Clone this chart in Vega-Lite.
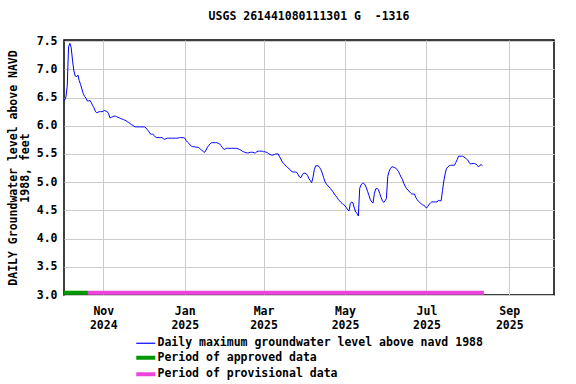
{
  "$schema": "https://vega.github.io/schema/vega-lite/v6.json",
  "autosize": {"type": "none"},
  "padding": {"left": 64, "top": 40, "right": 22, "bottom": 89},
  "width": 490,
  "height": 255,
  "background": "white",
  "title": {
    "text": "USGS 261441080111301 G \u00a0-1316",
    "font": "DejaVu Sans Mono",
    "fontSize": 11.5,
    "fontWeight": "bold",
    "color": "black",
    "anchor": "middle",
    "offset": 13
  },
  "config": {
    "view": {"stroke": "black", "strokeWidth": 1.5},
    "axis": {
      "labelFont": "DejaVu Sans Mono",
      "labelFontSize": 11.5,
      "labelFontWeight": "bold",
      "labelColor": "black",
      "titleFont": "DejaVu Sans Mono",
      "titleFontSize": 11.5,
      "titleFontWeight": "bold",
      "titleColor": "black",
      "gridColor": "#cccccc",
      "gridWidth": 1,
      "ticks": false,
      "domain": false
    },
    "legend": {
      "labelFont": "DejaVu Sans Mono",
      "labelFontSize": 11.5,
      "labelFontWeight": "bold",
      "labelColor": "black",
      "labelLimit": 0
    }
  },
  "datasets": {
    "gw": [
      {"date": "2024-10-03", "level": 6.45},
      {"date": "2024-10-04", "level": 6.51},
      {"date": "2024-10-05", "level": 6.70},
      {"date": "2024-10-06", "level": 7.40},
      {"date": "2024-10-07", "level": 7.46},
      {"date": "2024-10-08", "level": 7.38},
      {"date": "2024-10-09", "level": 7.15},
      {"date": "2024-10-10", "level": 6.97},
      {"date": "2024-10-11", "level": 6.88},
      {"date": "2024-10-12", "level": 6.87},
      {"date": "2024-10-13", "level": 6.90},
      {"date": "2024-10-14", "level": 6.80},
      {"date": "2024-10-15", "level": 6.73},
      {"date": "2024-10-16", "level": 6.65},
      {"date": "2024-10-17", "level": 6.57},
      {"date": "2024-10-18", "level": 6.52},
      {"date": "2024-10-19", "level": 6.49},
      {"date": "2024-10-20", "level": 6.44},
      {"date": "2024-10-21", "level": 6.44},
      {"date": "2024-10-22", "level": 6.45},
      {"date": "2024-10-23", "level": 6.41},
      {"date": "2024-10-24", "level": 6.36},
      {"date": "2024-10-25", "level": 6.32},
      {"date": "2024-10-26", "level": 6.26},
      {"date": "2024-10-27", "level": 6.23},
      {"date": "2024-10-28", "level": 6.24},
      {"date": "2024-10-29", "level": 6.25},
      {"date": "2024-10-30", "level": 6.25},
      {"date": "2024-10-31", "level": 6.25},
      {"date": "2024-11-01", "level": 6.26},
      {"date": "2024-11-02", "level": 6.27},
      {"date": "2024-11-03", "level": 6.26},
      {"date": "2024-11-04", "level": 6.25},
      {"date": "2024-11-05", "level": 6.21},
      {"date": "2024-11-06", "level": 6.14},
      {"date": "2024-11-07", "level": 6.15},
      {"date": "2024-11-08", "level": 6.16},
      {"date": "2024-11-09", "level": 6.17},
      {"date": "2024-11-10", "level": 6.17},
      {"date": "2024-11-11", "level": 6.16},
      {"date": "2024-11-12", "level": 6.15},
      {"date": "2024-11-13", "level": 6.14},
      {"date": "2024-11-14", "level": 6.13},
      {"date": "2024-11-15", "level": 6.12},
      {"date": "2024-11-16", "level": 6.11},
      {"date": "2024-11-17", "level": 6.10},
      {"date": "2024-11-18", "level": 6.09},
      {"date": "2024-11-19", "level": 6.07},
      {"date": "2024-11-20", "level": 6.06},
      {"date": "2024-11-21", "level": 6.04},
      {"date": "2024-11-22", "level": 6.02},
      {"date": "2024-11-23", "level": 6.01},
      {"date": "2024-11-24", "level": 5.99},
      {"date": "2024-11-25", "level": 5.98},
      {"date": "2024-11-26", "level": 5.98},
      {"date": "2024-11-27", "level": 5.98},
      {"date": "2024-11-28", "level": 5.98},
      {"date": "2024-11-29", "level": 5.98},
      {"date": "2024-11-30", "level": 5.98},
      {"date": "2024-12-01", "level": 5.98},
      {"date": "2024-12-02", "level": 5.98},
      {"date": "2024-12-03", "level": 5.96},
      {"date": "2024-12-04", "level": 5.93},
      {"date": "2024-12-05", "level": 5.90},
      {"date": "2024-12-06", "level": 5.86},
      {"date": "2024-12-07", "level": 5.85},
      {"date": "2024-12-08", "level": 5.85},
      {"date": "2024-12-09", "level": 5.83},
      {"date": "2024-12-10", "level": 5.80},
      {"date": "2024-12-11", "level": 5.79},
      {"date": "2024-12-12", "level": 5.79},
      {"date": "2024-12-13", "level": 5.79},
      {"date": "2024-12-14", "level": 5.79},
      {"date": "2024-12-15", "level": 5.79},
      {"date": "2024-12-16", "level": 5.77},
      {"date": "2024-12-17", "level": 5.76},
      {"date": "2024-12-18", "level": 5.77},
      {"date": "2024-12-19", "level": 5.78},
      {"date": "2024-12-20", "level": 5.78},
      {"date": "2024-12-21", "level": 5.78},
      {"date": "2024-12-22", "level": 5.78},
      {"date": "2024-12-23", "level": 5.78},
      {"date": "2024-12-24", "level": 5.78},
      {"date": "2024-12-25", "level": 5.78},
      {"date": "2024-12-26", "level": 5.78},
      {"date": "2024-12-27", "level": 5.78},
      {"date": "2024-12-28", "level": 5.79},
      {"date": "2024-12-29", "level": 5.79},
      {"date": "2024-12-30", "level": 5.79},
      {"date": "2024-12-31", "level": 5.79},
      {"date": "2025-01-01", "level": 5.78},
      {"date": "2025-01-02", "level": 5.74},
      {"date": "2025-01-03", "level": 5.71},
      {"date": "2025-01-04", "level": 5.69},
      {"date": "2025-01-05", "level": 5.66},
      {"date": "2025-01-06", "level": 5.64},
      {"date": "2025-01-07", "level": 5.63},
      {"date": "2025-01-08", "level": 5.63},
      {"date": "2025-01-09", "level": 5.62},
      {"date": "2025-01-10", "level": 5.62},
      {"date": "2025-01-11", "level": 5.62},
      {"date": "2025-01-12", "level": 5.60},
      {"date": "2025-01-13", "level": 5.58},
      {"date": "2025-01-14", "level": 5.56},
      {"date": "2025-01-15", "level": 5.54},
      {"date": "2025-01-16", "level": 5.53},
      {"date": "2025-01-17", "level": 5.57},
      {"date": "2025-01-18", "level": 5.62},
      {"date": "2025-01-19", "level": 5.65},
      {"date": "2025-01-20", "level": 5.68},
      {"date": "2025-01-21", "level": 5.70},
      {"date": "2025-01-22", "level": 5.70},
      {"date": "2025-01-23", "level": 5.70},
      {"date": "2025-01-24", "level": 5.70},
      {"date": "2025-01-25", "level": 5.70},
      {"date": "2025-01-26", "level": 5.69},
      {"date": "2025-01-27", "level": 5.68},
      {"date": "2025-01-28", "level": 5.65},
      {"date": "2025-01-29", "level": 5.62},
      {"date": "2025-01-30", "level": 5.59},
      {"date": "2025-01-31", "level": 5.58},
      {"date": "2025-02-01", "level": 5.60},
      {"date": "2025-02-02", "level": 5.60},
      {"date": "2025-02-03", "level": 5.60},
      {"date": "2025-02-04", "level": 5.60},
      {"date": "2025-02-05", "level": 5.60},
      {"date": "2025-02-06", "level": 5.60},
      {"date": "2025-02-07", "level": 5.60},
      {"date": "2025-02-08", "level": 5.60},
      {"date": "2025-02-09", "level": 5.60},
      {"date": "2025-02-10", "level": 5.59},
      {"date": "2025-02-11", "level": 5.58},
      {"date": "2025-02-12", "level": 5.57},
      {"date": "2025-02-13", "level": 5.55},
      {"date": "2025-02-14", "level": 5.54},
      {"date": "2025-02-15", "level": 5.53},
      {"date": "2025-02-16", "level": 5.52},
      {"date": "2025-02-17", "level": 5.52},
      {"date": "2025-02-18", "level": 5.52},
      {"date": "2025-02-19", "level": 5.53},
      {"date": "2025-02-20", "level": 5.53},
      {"date": "2025-02-21", "level": 5.53},
      {"date": "2025-02-22", "level": 5.52},
      {"date": "2025-02-23", "level": 5.52},
      {"date": "2025-02-24", "level": 5.54},
      {"date": "2025-02-25", "level": 5.55},
      {"date": "2025-02-26", "level": 5.55},
      {"date": "2025-02-27", "level": 5.55},
      {"date": "2025-02-28", "level": 5.55},
      {"date": "2025-03-01", "level": 5.54},
      {"date": "2025-03-02", "level": 5.54},
      {"date": "2025-03-03", "level": 5.53},
      {"date": "2025-03-04", "level": 5.52},
      {"date": "2025-03-05", "level": 5.50},
      {"date": "2025-03-06", "level": 5.49},
      {"date": "2025-03-07", "level": 5.48},
      {"date": "2025-03-08", "level": 5.48},
      {"date": "2025-03-09", "level": 5.49},
      {"date": "2025-03-10", "level": 5.50},
      {"date": "2025-03-11", "level": 5.50},
      {"date": "2025-03-12", "level": 5.50},
      {"date": "2025-03-13", "level": 5.45},
      {"date": "2025-03-14", "level": 5.41},
      {"date": "2025-03-15", "level": 5.36},
      {"date": "2025-03-16", "level": 5.33},
      {"date": "2025-03-17", "level": 5.31},
      {"date": "2025-03-18", "level": 5.28},
      {"date": "2025-03-19", "level": 5.26},
      {"date": "2025-03-20", "level": 5.24},
      {"date": "2025-03-21", "level": 5.22},
      {"date": "2025-03-22", "level": 5.19},
      {"date": "2025-03-23", "level": 5.18},
      {"date": "2025-03-24", "level": 5.18},
      {"date": "2025-03-25", "level": 5.18},
      {"date": "2025-03-26", "level": 5.17},
      {"date": "2025-03-27", "level": 5.13},
      {"date": "2025-03-28", "level": 5.09},
      {"date": "2025-03-29", "level": 5.08},
      {"date": "2025-03-30", "level": 5.13},
      {"date": "2025-03-31", "level": 5.16},
      {"date": "2025-04-01", "level": 5.16},
      {"date": "2025-04-02", "level": 5.15},
      {"date": "2025-04-03", "level": 5.12},
      {"date": "2025-04-04", "level": 5.06},
      {"date": "2025-04-05", "level": 5.03},
      {"date": "2025-04-06", "level": 4.99},
      {"date": "2025-04-07", "level": 5.08},
      {"date": "2025-04-08", "level": 5.22},
      {"date": "2025-04-09", "level": 5.29},
      {"date": "2025-04-10", "level": 5.29},
      {"date": "2025-04-11", "level": 5.29},
      {"date": "2025-04-12", "level": 5.26},
      {"date": "2025-04-13", "level": 5.22},
      {"date": "2025-04-14", "level": 5.16},
      {"date": "2025-04-15", "level": 5.08},
      {"date": "2025-04-16", "level": 5.01},
      {"date": "2025-04-17", "level": 4.97},
      {"date": "2025-04-18", "level": 4.94},
      {"date": "2025-04-19", "level": 4.92},
      {"date": "2025-04-20", "level": 4.89},
      {"date": "2025-04-21", "level": 4.86},
      {"date": "2025-04-22", "level": 4.83},
      {"date": "2025-04-23", "level": 4.79},
      {"date": "2025-04-24", "level": 4.76},
      {"date": "2025-04-25", "level": 4.73},
      {"date": "2025-04-26", "level": 4.69},
      {"date": "2025-04-27", "level": 4.67},
      {"date": "2025-04-28", "level": 4.64},
      {"date": "2025-04-29", "level": 4.62},
      {"date": "2025-04-30", "level": 4.60},
      {"date": "2025-05-01", "level": 4.58},
      {"date": "2025-05-02", "level": 4.55},
      {"date": "2025-05-03", "level": 4.51},
      {"date": "2025-05-04", "level": 4.49},
      {"date": "2025-05-05", "level": 4.62},
      {"date": "2025-05-06", "level": 4.65},
      {"date": "2025-05-07", "level": 4.63},
      {"date": "2025-05-08", "level": 4.54},
      {"date": "2025-05-09", "level": 4.47},
      {"date": "2025-05-10", "level": 4.45},
      {"date": "2025-05-11", "level": 4.40},
      {"date": "2025-05-12", "level": 4.89},
      {"date": "2025-05-13", "level": 4.95},
      {"date": "2025-05-14", "level": 4.98},
      {"date": "2025-05-15", "level": 4.98},
      {"date": "2025-05-16", "level": 4.95},
      {"date": "2025-05-17", "level": 4.90},
      {"date": "2025-05-18", "level": 4.83},
      {"date": "2025-05-19", "level": 4.76},
      {"date": "2025-05-20", "level": 4.69},
      {"date": "2025-05-21", "level": 4.65},
      {"date": "2025-05-22", "level": 4.63},
      {"date": "2025-05-23", "level": 4.80},
      {"date": "2025-05-24", "level": 4.88},
      {"date": "2025-05-25", "level": 4.89},
      {"date": "2025-05-26", "level": 4.87},
      {"date": "2025-05-27", "level": 4.80},
      {"date": "2025-05-28", "level": 4.73},
      {"date": "2025-05-29", "level": 4.67},
      {"date": "2025-05-30", "level": 4.64},
      {"date": "2025-05-31", "level": 4.67},
      {"date": "2025-06-01", "level": 4.71},
      {"date": "2025-06-02", "level": 5.10},
      {"date": "2025-06-03", "level": 5.19},
      {"date": "2025-06-04", "level": 5.24},
      {"date": "2025-06-05", "level": 5.27},
      {"date": "2025-06-06", "level": 5.27},
      {"date": "2025-06-07", "level": 5.26},
      {"date": "2025-06-08", "level": 5.25},
      {"date": "2025-06-09", "level": 5.22},
      {"date": "2025-06-10", "level": 5.19},
      {"date": "2025-06-11", "level": 5.14},
      {"date": "2025-06-12", "level": 5.09},
      {"date": "2025-06-13", "level": 5.05},
      {"date": "2025-06-14", "level": 4.98},
      {"date": "2025-06-15", "level": 4.93},
      {"date": "2025-06-16", "level": 4.89},
      {"date": "2025-06-17", "level": 4.86},
      {"date": "2025-06-18", "level": 4.84},
      {"date": "2025-06-19", "level": 4.81},
      {"date": "2025-06-20", "level": 4.79},
      {"date": "2025-06-21", "level": 4.79},
      {"date": "2025-06-22", "level": 4.79},
      {"date": "2025-06-23", "level": 4.73},
      {"date": "2025-06-24", "level": 4.69},
      {"date": "2025-06-25", "level": 4.66},
      {"date": "2025-06-26", "level": 4.64},
      {"date": "2025-06-27", "level": 4.62},
      {"date": "2025-06-28", "level": 4.60},
      {"date": "2025-06-29", "level": 4.59},
      {"date": "2025-06-30", "level": 4.57},
      {"date": "2025-07-01", "level": 4.54},
      {"date": "2025-07-02", "level": 4.57},
      {"date": "2025-07-03", "level": 4.61},
      {"date": "2025-07-04", "level": 4.63},
      {"date": "2025-07-05", "level": 4.65},
      {"date": "2025-07-06", "level": 4.65},
      {"date": "2025-07-07", "level": 4.65},
      {"date": "2025-07-08", "level": 4.65},
      {"date": "2025-07-09", "level": 4.65},
      {"date": "2025-07-10", "level": 4.68},
      {"date": "2025-07-11", "level": 4.67},
      {"date": "2025-07-12", "level": 4.67},
      {"date": "2025-07-13", "level": 4.85},
      {"date": "2025-07-14", "level": 5.02},
      {"date": "2025-07-15", "level": 5.15},
      {"date": "2025-07-16", "level": 5.24},
      {"date": "2025-07-17", "level": 5.27},
      {"date": "2025-07-18", "level": 5.29},
      {"date": "2025-07-19", "level": 5.30},
      {"date": "2025-07-20", "level": 5.30},
      {"date": "2025-07-21", "level": 5.30},
      {"date": "2025-07-22", "level": 5.30},
      {"date": "2025-07-23", "level": 5.35},
      {"date": "2025-07-24", "level": 5.40},
      {"date": "2025-07-25", "level": 5.46},
      {"date": "2025-07-26", "level": 5.46},
      {"date": "2025-07-27", "level": 5.46},
      {"date": "2025-07-28", "level": 5.46},
      {"date": "2025-07-29", "level": 5.45},
      {"date": "2025-07-30", "level": 5.43},
      {"date": "2025-07-31", "level": 5.41},
      {"date": "2025-08-01", "level": 5.39},
      {"date": "2025-08-02", "level": 5.35},
      {"date": "2025-08-03", "level": 5.32},
      {"date": "2025-08-04", "level": 5.33},
      {"date": "2025-08-05", "level": 5.33},
      {"date": "2025-08-06", "level": 5.33},
      {"date": "2025-08-07", "level": 5.32},
      {"date": "2025-08-08", "level": 5.30},
      {"date": "2025-08-09", "level": 5.27},
      {"date": "2025-08-10", "level": 5.30},
      {"date": "2025-08-11", "level": 5.31},
      {"date": "2025-08-12", "level": 5.29}
    ],
    "periods": [
      {"start": "2024-10-02T14:00:00Z", "end": "2024-10-20T12:00:00Z", "period": "Period of approved data", "base": 3.04},
      {"start": "2024-10-20T12:00:00Z", "end": "2025-08-13T00:00:00Z", "period": "Period of provisional data", "base": 3.04}
    ]
  },
  "encoding": {
    "x": {
      "type": "temporal",
      "scale": {
        "type": "utc",
        "domain": [
          {"year": 2024, "month": 10, "date": 2, "hours": 14, "utc": true},
          {"year": 2025, "month": 10, "date": 4, "hours": 12, "utc": true}
        ]
      },
      "axis": {
        "title": null,
        "grid": true,
        "values": [
          {"year": 2024, "month": 11, "date": 1, "utc": true},
          {"year": 2025, "month": 1, "date": 1, "utc": true},
          {"year": 2025, "month": 3, "date": 1, "utc": true},
          {"year": 2025, "month": 5, "date": 1, "utc": true},
          {"year": 2025, "month": 7, "date": 1, "utc": true},
          {"year": 2025, "month": 9, "date": 1, "utc": true}
        ],
        "labelExpr": "[utcFormat(datum.value, '%b'), utcFormat(datum.value, '%Y')]",
        "labelPadding": 10,
        "labelLineHeight": 14,
        "labelBaseline": "top"
      }
    },
    "y": {
      "type": "quantitative",
      "scale": {"domain": [3, 7.52], "nice": false, "zero": false},
      "axis": {
        "title": ["DAILY Groundwater level above NAVD", "1988, feet"],
        "titleLineHeight": 12,
        "titlePadding": 6,
        "values": [3, 3.5, 4, 4.5, 5, 5.5, 6, 6.5, 7, 7.5],
        "format": ".1f",
        "labelPadding": 7,
        "labelOverlap": false,
        "grid": true
      }
    },
    "color": {
      "type": "nominal",
      "scale": {
        "domain": ["Daily maximum groundwater level above navd 1988", "Period of approved data", "Period of provisional data"],
        "range": ["#0000ff", "#009900", "#ee44dd"]
      },
      "legend": {
        "title": null,
        "orient": "none",
        "legendX": 76,
        "legendY": 297.5,
        "direction": "vertical",
        "symbolType": "stroke",
        "symbolSize": 361,
        "symbolStrokeWidth": 4,
        "labelOffset": 6,
        "labelLimit": 0,
        "rowPadding": -0.5,
        "encode": {
          "symbols": {
            "update": {
              "strokeWidth": {"signal": "datum.value == 'Daily maximum groundwater level above navd 1988' ? 1.2 : 4"}
            }
          }
        }
      }
    }
  },
  "layer": [
    {
      "data": {"name": "gw"},
      "mark": {"type": "line", "strokeWidth": 1, "interpolate": "linear"},
      "encoding": {
        "x": {"field": "date", "type": "temporal"},
        "y": {"field": "level", "type": "quantitative"},
        "color": {"datum": "Daily maximum groundwater level above navd 1988", "type": "nominal"}
      }
    },
    {
      "data": {"name": "periods"},
      "mark": {"type": "rule", "strokeWidth": 4, "strokeCap": "butt"},
      "encoding": {
        "x": {"field": "start", "type": "temporal"},
        "x2": {"field": "end"},
        "y": {"field": "base", "type": "quantitative"},
        "color": {"field": "period", "type": "nominal"}
      }
    }
  ]
}
